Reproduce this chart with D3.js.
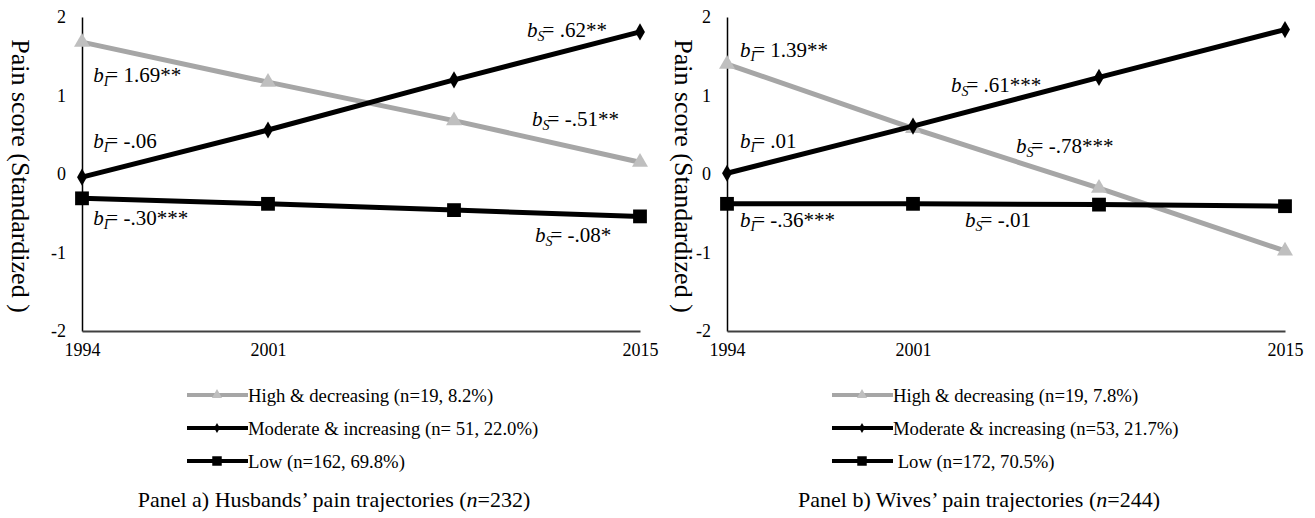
<!DOCTYPE html>
<html>
<head>
<meta charset="utf-8">
<script src="https://cdn.jsdelivr.net/npm/d3@7"></script>
<style>
  body { margin: 0; background: #fff; }
  svg { display: block; }
  svg text { font-family: "Liberation Serif", "Times New Roman", serif; fill: #000; }
  .tick text { font-size: 18px; }
</style>
</head>
<body>
<svg width="1315" height="518"></svg>
<script>
// ---- data ----
const years = [1994, 2001, 2008, 2015];
const yearLabels = [1994, 2001, 2015];
const yTicks = [-2, -1, 0, 1, 2];

const husHigh = [1.68, 1.17, 0.68, 0.15];
const husModerate = [-0.04, 0.56, 1.20, 1.81];
const husLow = [-0.31, -0.38, -0.46, -0.54];

const wifHigh = [1.40, 0.58, -0.18, -0.98];
const wifModerate = [0.01, 0.61, 1.23, 1.84];
const wifLow = [-0.38, -0.38, -0.39, -0.41];

const husLegend = ['High & decreasing (n=19, 8.2%)', 'Moderate & increasing (n= 51, 22.0%)', 'Low (n=162, 69.8%)'];
const wifLegend = ['High & decreasing (n=19, 7.8%)', 'Moderate & increasing (n=53, 21.7%)', ' Low (n=172, 70.5%)'];

// annotations: [subscript, text, year, value]
const husNotes = [
  ['I', '= 1.69**', 1994.42, 1.17],
  ['I', '= -.06', 1994.42, 0.33],
  ['S', '= .62**', 2010.75, 1.745],
  ['S', '= -.51**', 2010.94, 0.61],
  ['I', '= -.30***', 1994.42, -0.65],
  ['S', '= -.08*', 2011.05, -0.87]
];
const wifNotes = [
  ['I', '= 1.39**', 1994.49, 1.49],
  ['I', '= .01', 1994.49, 0.33],
  ['S', '= .61***', 2002.43, 1.045],
  ['S', '= -.78***', 2004.88, 0.27],
  ['I', '= -.36***', 1994.49, -0.675],
  ['S', '= -.01', 2002.96, -0.675]
];

const svg = d3.select('svg');
const gray = '#a6a6a6';

const triangle = d3.symbol().type(d3.symbolTriangle);
const diamond = d3.symbol().type(d3.symbolDiamond);
const square = d3.symbol().type(d3.symbolSquare);

function drawPanel(left, labelX, series, notes, legend, title, n) {
  const x = d3.scaleLinear().domain([1994, 2015]).range([left, left + 558]);
  const y = d3.scaleLinear().domain([-2, 2]).range([331, 17]);
  const g = svg.append('g');

  // y axis
  const yAxisG = g.append('g')
    .attr('transform', `translate(${left},0)`)
    .call(d3.axisLeft(y).tickValues(yTicks).tickSize(0).tickPadding(16).tickFormat(d => String(d)))
    .attr('font-family', null).attr('font-size', null);
  yAxisG.select('.domain').attr('stroke', '#000').attr('stroke-width', 1.5);

  // x axis
  const xAxisG = g.append('g')
    .attr('transform', `translate(0,331)`)
    .call(d3.axisBottom(x).tickValues(yearLabels).tickSize(0).tickPadding(12).tickFormat(d => String(d)))
    .attr('font-family', null).attr('font-size', null);
  xAxisG.select('.domain').attr('stroke', '#404040').attr('stroke-width', 2);

  // y label
  g.append('text')
    .attr('transform', `translate(${labelX},176) rotate(90)`)
    .attr('text-anchor', 'middle')
    .attr('font-size', 26)
    .text('Pain score (Standardized )');

  const line = d3.line().x((d, i) => x(years[i])).y(d => y(d));

  series.forEach(s => {
    g.append('path')
      .attr('d', line(s.values))
      .attr('fill', 'none')
      .attr('stroke', s.color)
      .attr('stroke-width', 5);
    g.selectAll(null).data(s.values).join('path')
      .attr('transform', (d, i) => `translate(${x(years[i])},${y(d)})`)
      .attr('d', s.sym.size(s.size)())
      .attr('fill', s.fill);
  });

  // annotations
  notes.forEach(nt => {
    const t = g.append('text')
      .attr('x', x(nt[2]))
      .attr('y', y(nt[3]))
      .attr('font-size', 21);
    t.append('tspan').attr('font-style', 'italic').text('b');
    t.append('tspan').attr('font-style', 'italic').attr('font-size', 14).attr('dy', 4).text(nt[0]);
    t.append('tspan').attr('dy', -4).attr('dx', -2).text(nt[1]);
  });

  // legend
  const lx = left + 105;
  legend.forEach((lab, i) => {
    const s = series[i];
    const ly = 395 + i * 33;
    g.append('line')
      .attr('x1', lx).attr('x2', lx + 61)
      .attr('y1', ly).attr('y2', ly)
      .attr('stroke', s.color).attr('stroke-width', 4);
    g.append('path')
      .attr('transform', `translate(${lx + 30},${ly})`)
      .attr('d', s.sym.size(s.legSize)())
      .attr('fill', s.fill);
    g.append('text')
      .attr('x', lx + 61)
      .attr('y', ly)
      .attr('dy', '0.35em')
      .attr('font-size', 18.7)
      .style('white-space', 'pre')
      .text(lab);
  });

  // title
  const tt = g.append('text')
    .attr('x', left + 252)
    .attr('y', 507)
    .attr('text-anchor', 'middle')
    .attr('font-size', 22);
  tt.append('tspan').text(title + ' (');
  tt.append('tspan').attr('font-style', 'italic').text('n');
  tt.append('tspan').text('=' + n + ')');
}

const mkSeries = (high, mod, low) => [
  { values: high, color: gray, fill: '#bfbfbf', sym: triangle, size: 110, legSize: 45 },
  { values: mod, color: '#000', fill: '#000', sym: diamond, size: 85, legSize: 30 },
  { values: low, color: '#000', fill: '#000', sym: square, size: 190, legSize: 90 }
];

drawPanel(82, 12, mkSeries(husHigh, husModerate, husLow), husNotes, husLegend, 'Panel a) Husbands\u2019 pain trajectories', 232);
drawPanel(727, 675, mkSeries(wifHigh, wifModerate, wifLow), wifNotes, wifLegend, 'Panel b) Wives\u2019 pain trajectories', 244);
</script>
</body>
</html>
